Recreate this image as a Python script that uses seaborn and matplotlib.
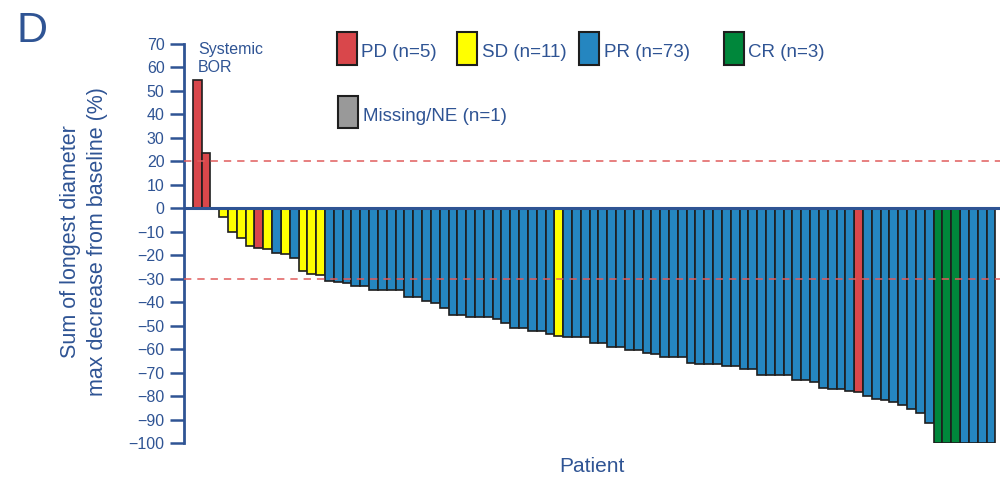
import numpy as np
import pandas as pd
import matplotlib
matplotlib.use("Agg")
import matplotlib.pyplot as plt
import seaborn as sns
from matplotlib.patches import Rectangle

# ---- data ----
change = [
    54.5, 23.5, np.nan, -3.7, -10.2, -12.7, -16.2, -16.9, -17.4, -19.1, -19.3, -21.3, -26.6, -27.8, -28.5,
    -31.0, -31.5, -32.0, -32.9, -32.9, -34.9, -34.9, -34.9, -34.9, -37.7, -37.7, -39.4, -40.2, -42.6,
    -45.3, -45.3, -46.3, -46.3, -46.3, -47.2, -48.7, -51.1, -51.1, -52.4, -52.4, -53.5,
    -54.2,
    -55.0, -55.0, -55.0, -57.6, -57.6, -59.2, -59.2, -60.5, -60.5, -61.6, -62.2, -63.3, -63.3, -63.3,
    -65.9, -66.2, -66.2, -66.2, -67.0, -67.0, -68.4, -68.4, -71.1, -71.1, -71.1, -71.1, -73.1, -73.1,
    -74.1, -76.6, -77.1, -77.1, -77.9,
    -78.2,
    -79.8, -81.2, -81.6, -82.7, -84.0, -85.4, -87.1, -91.5,
    -100.0, -100.0, -100.0,
    -100.0, -100.0, -100.0, -100.0,
]
response = (
    ["PD", "PD", "NE", "SD", "SD", "SD", "SD", "PD", "SD", "PR", "SD", "PR", "SD", "SD", "SD"]
    + ["PR"] * 26
    + ["SD"]
    + ["PR"] * 33
    + ["PD"]
    + ["PR"] * 8
    + ["CR"] * 3
    + ["PR"] * 4
)
categories = ["PD", "SD", "PR", "CR", "NE"]
legend_labels = ["PD (n=5)", "SD (n=11)", "PR (n=73)", "CR (n=3)", "Missing/NE (n=1)"]
colors = {"PD": "#D9474B", "SD": "#FFFF00", "PR": "#2586C0", "CR": "#00873B", "NE": "#999999"}
yticks = list(range(-100, 71, 10))

# ---- style ----
sns.set_style("white")
plt.rcParams["font.family"] = ["Liberation Sans", "DejaVu Sans"]
BLUE = "#2F5494"
EDGE = "#1E1E1E"
W, H = 1007, 479

fig = plt.figure(figsize=(W / 100, H / 100), dpi=100)
ax = fig.add_axes([184 / W, 36 / H, 816 / W, 399 / H])

df = pd.DataFrame({
    "patient": [f"P{i + 1:02d}" for i in range(len(change))],
    "change": change,
    "response": response,
})
sns.barplot(data=df, x="patient", y="change", hue="response", order=list(df["patient"]),
            hue_order=categories, palette=colors, dodge=False, width=1.0, saturation=1,
            edgecolor=EDGE, linewidth=1.2, errorbar=None, legend=False, ax=ax, zorder=2)

ax.set_xlim(-1.49, 91.03)
ax.set_ylim(-100, 70)
ax.set_yticks(yticks)
for s in ["top", "right", "bottom"]:
    ax.spines[s].set_visible(False)
ax.spines["left"].set_color(BLUE)
ax.spines["left"].set_linewidth(2.0)
ax.tick_params(axis="y", direction="out", length=10, width=1.8, color=BLUE,
               labelcolor=BLUE, labelsize=11.5, pad=4, left=True)
ax.tick_params(axis="x", bottom=False, labelbottom=False)
ax.grid(False)

ax.axhline(0, color=BLUE, lw=2.2, zorder=4)
for ref in (20, -30):
    ax.axhline(ref, color="#E05C5C", lw=1.1, ls=(0, (4.8, 3.9)), zorder=5)

ax.set_xlabel("Patient", fontsize=15, color=BLUE)
ax.xaxis.label.set_va("center")
ax.xaxis.set_label_coords(0.5, (443 - 466) / 399)
ax.set_ylabel("Sum of longest diameter\nmax decrease from baseline (%)", fontsize=15.5,
              color=BLUE, linespacing=1.4)
ax.yaxis.label.set_va("center")
ax.yaxis.set_label_coords((84 - 184) / 816, 0.505)

def fx(px):
    return px / W

def fy(py):
    return 1 - py / H

fig.text(fx(17), fy(41.7), "D", fontsize=31, color=BLUE, va="baseline", ha="left")
fig.text(fx(198), fy(54), "Systemic", fontsize=11.5, color=BLUE, va="baseline")
fig.text(fx(198), fy(71.7), "BOR", fontsize=11.5, color=BLUE, va="baseline")

# legend (manual layout)
leg_items = [
    ("PD", 337.3, 32.3, 361, 57.3),
    ("SD", 457.3, 32.3, 482, 57.3),
    ("PR", 579.3, 32.3, 604.5, 57.3),
    ("CR", 724.3, 32.3, 748.5, 57.3),
    ("NE", 338.3, 95.7, 363, 121),
]
for (cat, px, py, tx, ty) in leg_items:
    lab = legend_labels[categories.index(cat)]
    fig.add_artist(Rectangle((fx(px), fy(py + 32.5)), 19.4 / W, 32.5 / H,
                             transform=fig.transFigure, facecolor=colors[cat],
                             edgecolor=EDGE, linewidth=1.5))
    fig.text(fx(tx), fy(ty), lab, fontsize=13.5, color=BLUE, va="baseline", ha="left")

fig.savefig("out.png", dpi=100)
